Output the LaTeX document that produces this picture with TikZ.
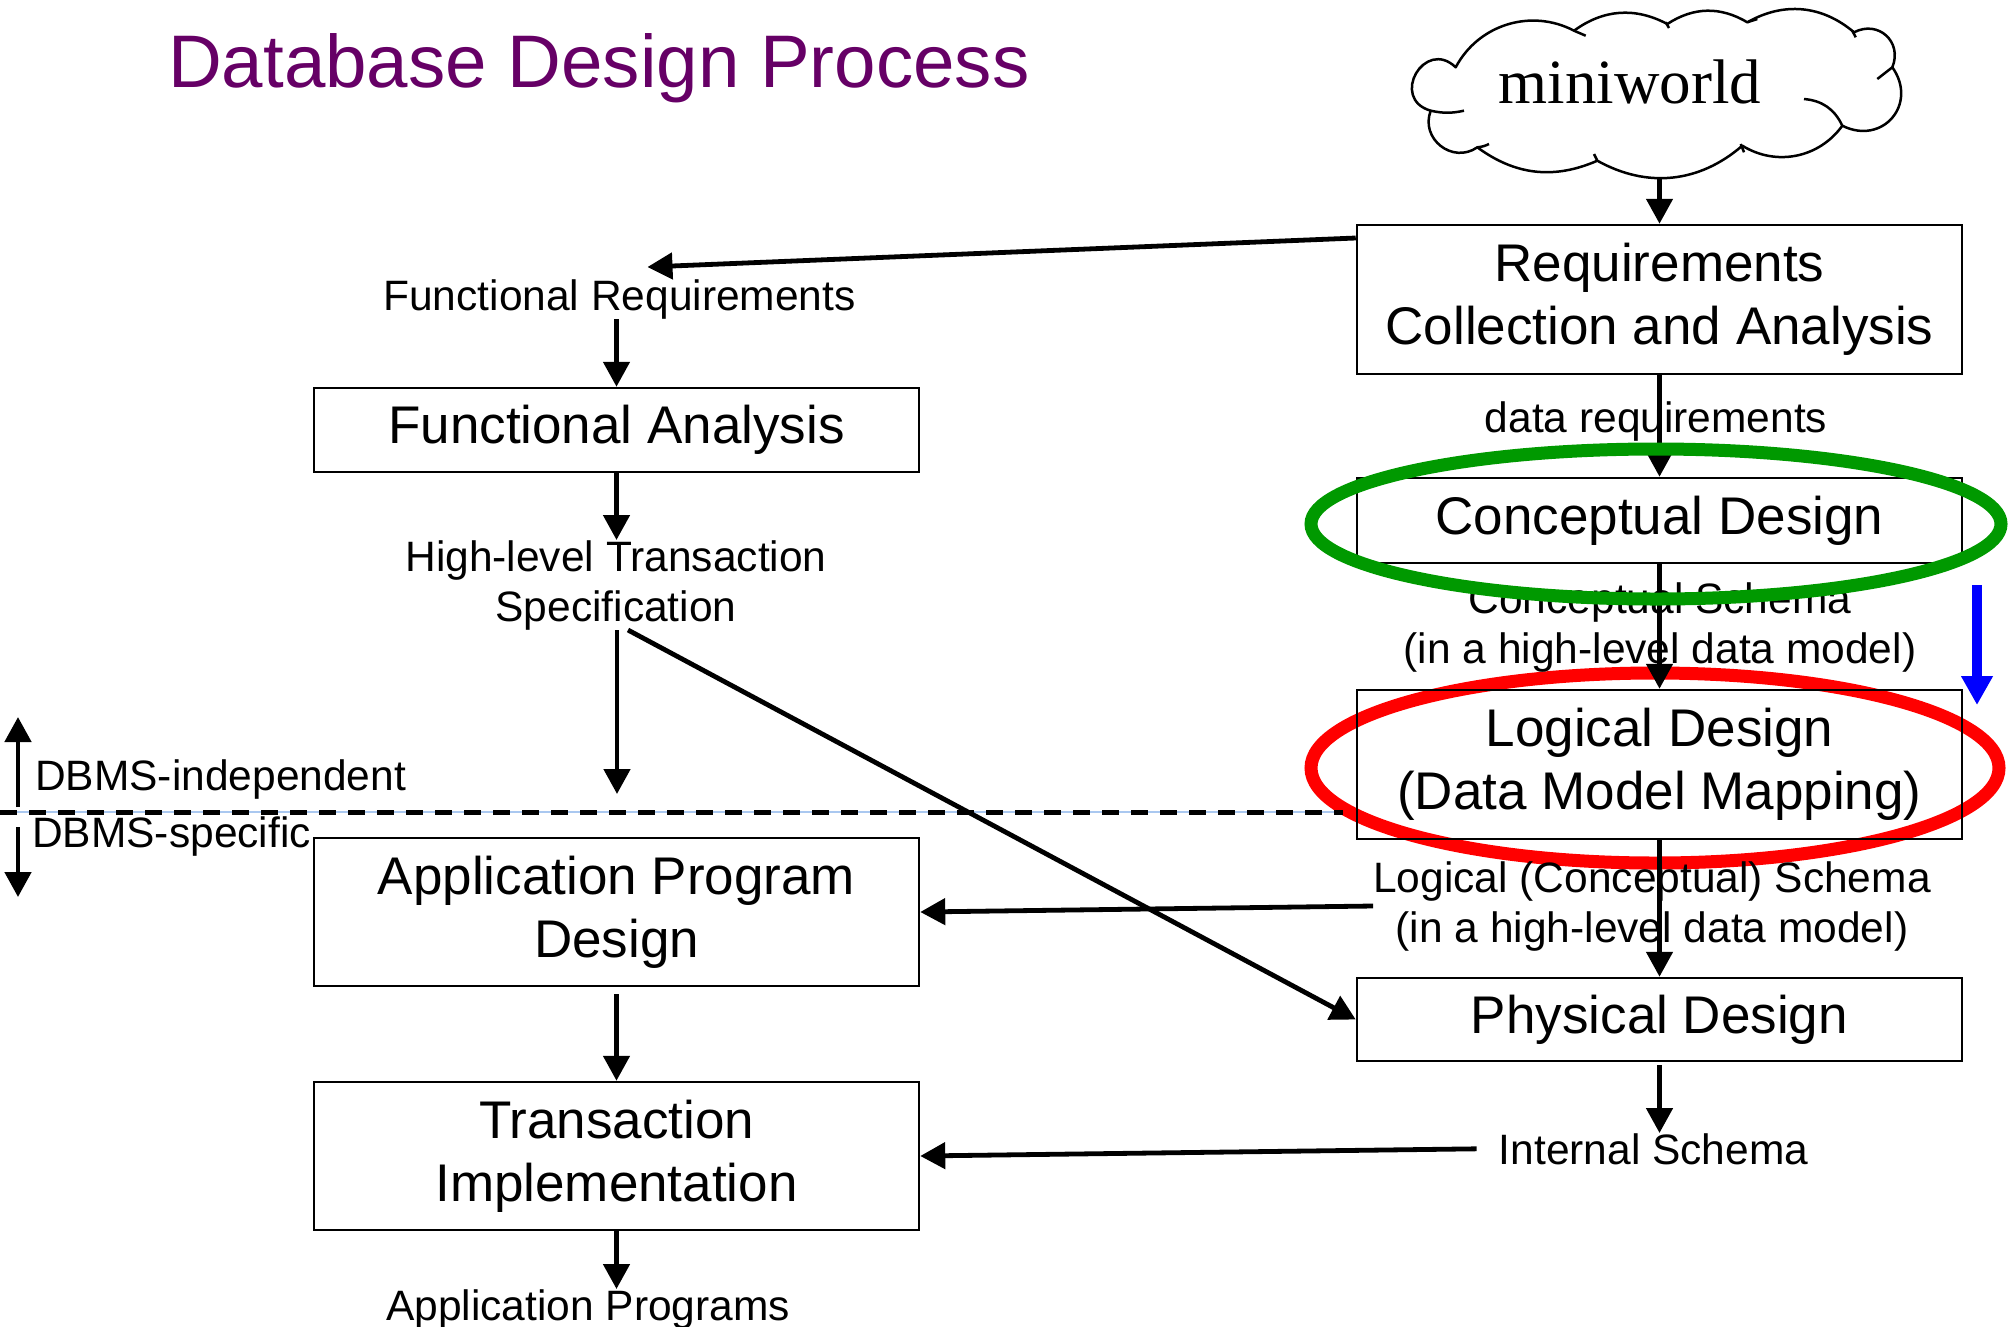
\documentclass[tikz,border=0pt]{standalone}
\usepackage{fontspec}
\setmainfont{Liberation Sans}
\newfontfamily\cloudserif{Liberation Serif}
\usetikzlibrary{arrows.meta,calc}

\definecolor{titlepurple}{RGB}{102,0,102}
\definecolor{ovalgreen}{RGB}{0,153,0}
\definecolor{ovalred}{RGB}{255,0,0}
\definecolor{cueblue}{RGB}{0,0,255}
\definecolor{guideblue}{RGB}{170,200,240}

\begin{document}
\begin{tikzpicture}[x=1pt,y=-1pt,
  stage/.style={draw, line width=2.5pt, minimum width=605pt, inner sep=0pt,
    align=center, font=\fontsize{53}{63}\selectfont},
  lbl/.style={inner sep=0pt, align=center, font=\fontsize{42.5}{50}\selectfont},
  side/.style={inner sep=0pt, anchor=base west, font=\fontsize{42.5}{50}\selectfont},
  flow/.style={line width=4.8pt, -{Triangle[length=25pt,width=26pt]}},
  divider/.style={line width=5pt, dash pattern=on 17pt off 12pt},
  oval/.style={line width=13pt},
  puff/.style={line width=2.5pt, line join=round},
  cue/.style={line width=10pt, cueblue, -{Triangle[length=29pt,width=30pt]}}
]
\useasboundingbox (0,0) rectangle (2015,1326);

% highlight behind the logical design stage
\draw[oval, ovalred] (1655,768) ellipse [x radius=344, y radius=95];

% title
\node[inner sep=0pt, anchor=base west, text=titlepurple,
      font=\fontsize{74.5}{80}\selectfont] (title) at (168,87) {Database Design Process};

% miniworld cloud: puffs meet at these points
\coordinate (c1) at (1455.7,67.3);
\coordinate (c2) at (1430.7,110.7);
\coordinate (c3) at (1477.3,147.3);
\coordinate (c4) at (1597.3,160.7);
\coordinate (c5) at (1742.3,145.7);
\coordinate (c6) at (1842.3,125.7);
\coordinate (c7) at (1892.3,67.3);
\coordinate (c8) at (1854,32.3);
\coordinate (c9) at (1747.3,22.3);
\coordinate (c10) at (1667.3,24);
\coordinate (c11) at (1574,30.7);
\draw[puff] (c1) to[bend left=45] (c11) to[bend left=32] (c10) to[bend left=32] (c9)
  to[bend left=35] (c8) to[bend left=70, looseness=1.35] (c7)
  to[bend left=76, looseness=1.5] (c6) to[bend left=43] (c5)
  to[bend left=35] (c4) to[bend left=30] (c3)
  to[bend left=73, looseness=1.3] (c2) to[bend left=104, looseness=2.2] (c1) -- cycle;
% inner ends of the puffs
\draw[puff] (c2) to[bend right=12] (1464,110.7);
\draw[puff] (c3) to[bend right=10] (1489,144);
\draw[puff] (1594,154) -- (c4);
\draw[puff] (1740.7,144) -- (1744,152.3);
\draw[puff] (1804,99) to[bend left=30] (c6);
\draw[puff] (1877.3,79) -- (c7);
\draw[puff] (1852.3,30.7) -- (1855.7,37.3);
\draw[puff] (c9) -- (1757.3,19);
\draw[puff] (1665.7,22.3) -- (1669,28);
\draw[puff] (c11) -- (1585.7,35.7);
\coordinate (cloudbase) at (1660,177);
\node[inner sep=0pt, anchor=base, font=\cloudserif\fontsize{63}{70}\selectfont]
      (minitext) at (1630,103) {miniworld};

% database-side stages
\node[stage, minimum height=149pt] (req) at (1659.5,299.5) {Requirements\\Collection and Analysis};
\node[stage, minimum height=85pt] (concept) at (1659.5,520.5) {Conceptual Design};
\node[stage, minimum height=149pt] (logical) at (1659.5,764.5) {Logical Design\\(Data Model Mapping)};
\node[stage, minimum height=83pt] (phys) at (1659.5,1019.5) {Physical Design};

% application-side stages
\node[stage, minimum height=84pt] (fa) at (616.5,430) {Functional Analysis};
\node[stage, minimum height=148pt] (apd) at (616.5,912) {Application Program\\Design};
\node[stage, minimum height=148pt] (ti) at (616.5,1156) {Transaction\\Implementation};

% intermediate results
\node[lbl, anchor=base] (fr) at (619.5,310) {Functional Requirements};
\node[lbl] (hl) at (616,585) {High-level Transaction\\Specification};
\node[lbl, anchor=base] (dr) at (1656,432) {data requirements};
\node[lbl] (cs) at (1660,627) {Conceptual Schema\\(in a high-level data model)};
\node[lbl] (ls) at (1652,906) {Logical (Conceptual) Schema\\(in a high-level data model)};
\node[lbl, anchor=base] (is) at (1653.5,1164) {Internal Schema};
\node[lbl, anchor=base] (ap) at (588,1320) {Application Programs};

% DBMS boundary
\node[side] (dbi) at (35,790) {DBMS-independent};
\node[side] (dbs) at (32,847) {DBMS-specific};
\coordinate (divL) at (0,812);
\coordinate (divR) at (1343,812);
\draw[guideblue, line width=1.5pt] (divL) -- (divR);
\draw[divider] (divL) -- (divR);
\coordinate (upFrom) at (18,807);
\coordinate (upTo) at (18,717);
\coordinate (downFrom) at (18,827);
\coordinate (downTo) at (18,897);
\draw[flow] (upFrom) -- (upTo);
\draw[flow] (downFrom) -- (downTo);

% connectors
\draw[flow] (req.north |- cloudbase) -- (req.north);
\draw[flow] ([yshift=61.5pt]req.west) -- ([xshift=28pt,yshift=12pt]fr.north);
\draw[flow] (fr.south -| fa.north) -- (fa.north);
\draw[flow] (fa.south) -- (fa.south |- hl.north);
\coordinate (indep) at (617,794);
\draw[flow] (hl.south -| indep) -- (indep);
\draw[flow] ([xshift=12pt]hl.south) -- (phys.west);
\draw[flow] (req.south) -- (concept.north);
\draw[flow] (concept.south) -- (logical.north);
\draw[flow] (logical.south) -- (phys.north);
\draw[flow] (ls.west) -- (apd.east);
\draw[flow] ([yshift=-3pt]phys.south) -- (phys.south |- is.north);
\draw[flow] ([xshift=-22pt]is.west) -- (ti.east);
\draw[flow] ([yshift=-7pt]apd.south) -- (ti.north);
\draw[flow] (ti.south) -- (ti.south |- ap.north);

% highlight over the conceptual design stage
\draw[oval, ovalgreen] (1656,524) ellipse [x radius=345, y radius=75];

% direction cue
\coordinate (cueTop) at (1977,585);
\coordinate (cueTip) at (1977,705);
\draw[cue] (cueTop) -- (cueTip);
\end{tikzpicture}
\end{document}
